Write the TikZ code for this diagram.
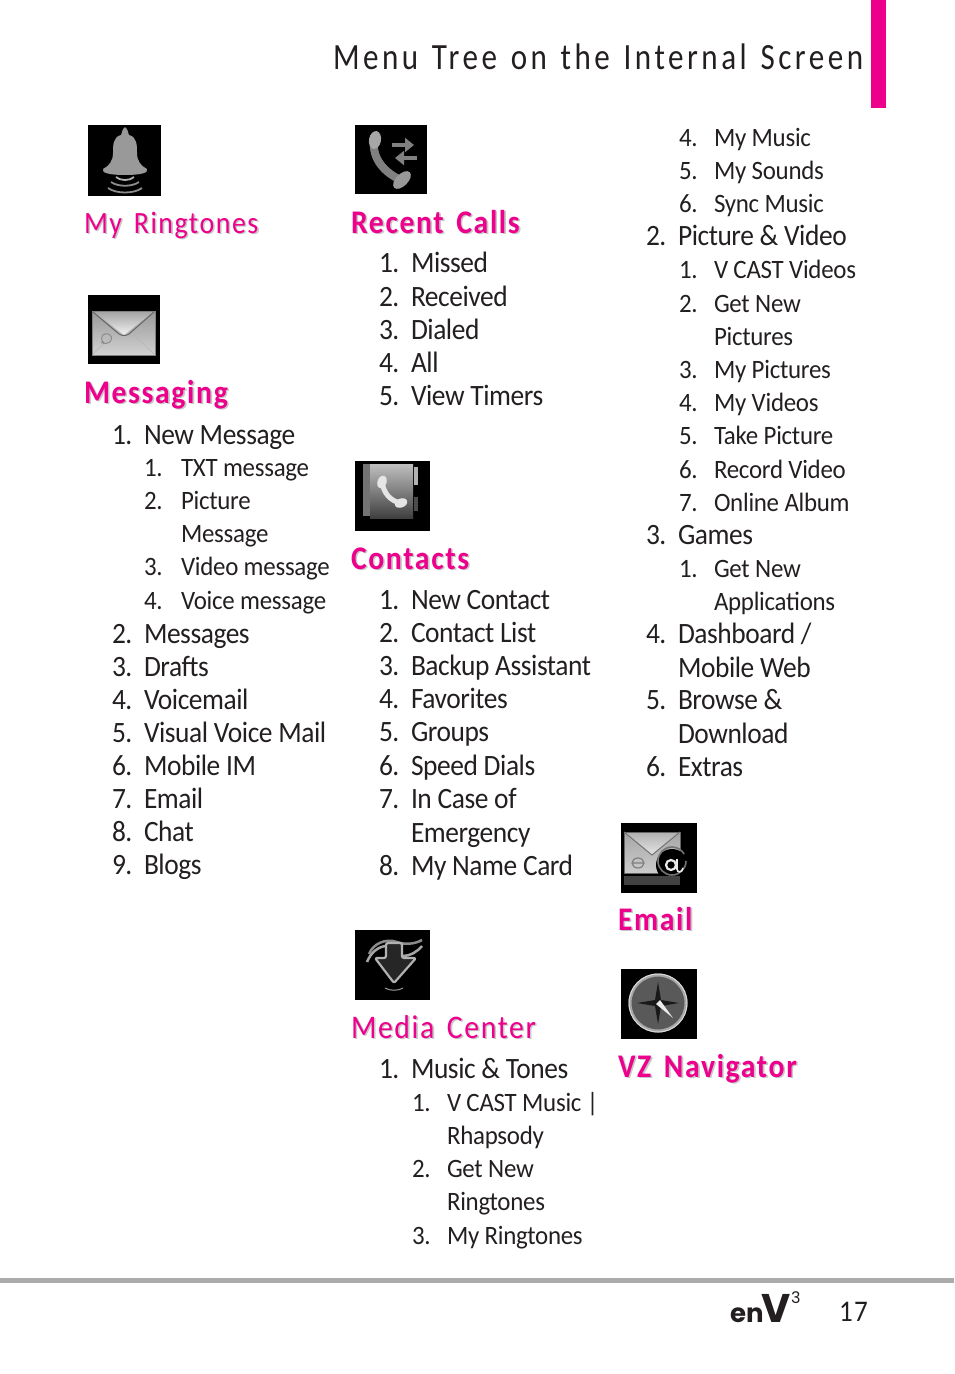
\documentclass[tikz,border=0pt]{standalone}
\usepackage{fontspec}
\setmainfont{Carlito}
\newfontfamily\topfont[FakeStretch=.93, LetterSpace=-1.5]{Carlito}
\newfontfamily\subfont[FakeStretch=.94, LetterSpace=-1]{Carlito}
\newfontfamily\headfont[FakeStretch=.9, LetterSpace=5, WordSpace=1.5]{Carlito}
\newfontfamily\titlefont[FakeStretch=.84, LetterSpace=9.5, WordSpace=1.3]{Carlito}
\newfontfamily\logofont{Poppins}
\usetikzlibrary{arrows.meta, positioning}
\definecolor{lgpink}{HTML}{EC008C}
\definecolor{lgtext}{HTML}{231F20}
\definecolor{lgrule}{HTML}{ABABAB}
\newcommand{\headtext}[1]{\rlap{\kern1.6pt\raisebox{-1.6pt}{\textcolor{black!22}{#1}}}#1}
\tikzset{
  every node/.style={inner sep=0pt, outer sep=0pt, anchor=base west, text=lgtext},
  toplabel/.style={font=\topfont\fontsize{29.5}{33}\selectfont},
  sublabel/.style={font=\subfont\fontsize{26.5}{33}\selectfont},
  headlabel/.style={font=\headfont\fontsize{33}{36}\selectfont, text=lgpink},
  headbold/.style={font=\headfont\fontsize{33}{36}\selectfont\bfseries, text=lgpink},
  icon/.style={fill=black},
}
\begin{document}
\begin{tikzpicture}[x=1pt, y=-1pt]
  \useasboundingbox (0,0) rectangle (954,1374);
  % page furniture
  \fill[lgpink] (871,0) rectangle (886,108);
  \fill[lgrule] (0,1278) rectangle (954,1283);
  \node[font=\titlefont\fontsize{37}{40}\selectfont] (title) at (333,69) {Menu Tree on the Internal Screen};
  \node[font=\logofont\fontsize{26}{30}\selectfont\bfseries] (logo) at (730,1322) {en{\fontsize{40}{44}\selectfont\kern-2pt V}};
  \node[font=\logofont\fontsize{16}{18}\selectfont] (logosup) at (791,1303) {3};
  \fill[lgtext] (787,1295) circle (1);
  \node[font=\headfont\fontsize{30}{33}\selectfont] (page) at (839,1321) {17};

  % first column
  \node[headlabel, font=\headfont\fontsize{31}{36}\selectfont] (ringtones) at (84,233) {\headtext{My Ringtones}};
  \node[headbold] (messaging) at (84,403) {\headtext{Messaging}};
  \foreach \y/\n/\t in {444/1./New Message, 643/2./Messages, 676/3./Drafts, 709/4./Voicemail,
      742/5./Visual Voice Mail, 775/6./Mobile IM, 808/7./Email, 841/8./Chat, 874/9./Blogs} {
    \node[toplabel] (mnum\y) at (112,\y) {\n};
    \node[toplabel] (mitem\y) at (144,\y) {\t};
  }
  \foreach \y/\n/\t in {476/1./TXT message, 509/2./Picture, 575/3./Video message, 609/4./Voice message} {
    \node[sublabel] (mnum\y) at (144,\y) {\n};
    \node[sublabel] (mitem\y) at (181,\y) {\t};
  }
  \node[sublabel] (mitem542) at (181,542) {Message};

  % second column
  \node[headbold] (calls) at (351,233) {\headtext{Recent Calls}};
  \foreach \y/\n/\t in {272/1./Missed, 306/2./Received, 339/3./Dialed, 372/4./All, 405/5./View Timers} {
    \node[toplabel] (rnum\y) at (379,\y) {\n};
    \node[toplabel] (ritem\y) at (411,\y) {\t};
  }
  \node[headbold] (contacts) at (351,569) {\headtext{Contacts}};
  \foreach \y/\n/\t in {609/1./New Contact, 642/2./Contact List, 675/3./Backup Assistant, 708/4./Favorites,
      741/5./Groups, 775/6./Speed Dials, 808/7./In Case of, 875/8./My Name Card} {
    \node[toplabel] (cnum\y) at (379,\y) {\n};
    \node[toplabel] (citem\y) at (411,\y) {\t};
  }
  \node[toplabel] (citem842) at (411,842) {Emergency};
  \node[headlabel] (media) at (351,1038) {\headtext{Media Center}};
  \node[toplabel] (mcnum1) at (379,1078) {1.};
  \node[toplabel] (mcitem1) at (411,1078) {Music \& Tones};
  \foreach \y/\n/\t in {1111/1./V CAST Music |, 1177/2./Get New, 1244/3./My Ringtones} {
    \node[sublabel] (snum\y) at (412,\y) {\n};
    \node[sublabel] (sitem\y) at (447,\y) {\t};
  }
  \node[sublabel] (sitem1144) at (447,1144) {Rhapsody};
  \node[sublabel] (sitem1210) at (447,1210) {Ringtones};

  % third column
  \foreach \y/\n/\t in {146/4./My Music, 179/5./My Sounds, 212/6./Sync Music, 278/1./V CAST Videos, 312/2./Get New,
      378/3./My Pictures, 411/4./My Videos, 444/5./Take Picture, 478/6./Record Video, 511/7./Online Album, 577/1./Get New} {
    \node[sublabel] (tnum\y) at (679,\y) {\n};
    \node[sublabel] (titem\y) at (714,\y) {\t};
  }
  \node[sublabel] (titem345) at (714,345) {Pictures};
  \node[sublabel] (titem610) at (714,610) {Applications};
  \foreach \y/\n/\t in {245/2./Picture \& Video, 544/3./Games, 643/4./{Dashboard /}, 709/5./Browse \&, 776/6./Extras} {
    \node[toplabel] (tnum\y) at (646,\y) {\n};
    \node[toplabel] (titem\y) at (678,\y) {\t};
  }
  \node[toplabel] (titem677) at (678,677) {Mobile Web};
  \node[toplabel] (titem743) at (678,743) {Download};
  \node[headbold] (email) at (618,930) {\headtext{Email}};
  \node[headbold] (navigator) at (618,1077) {\headtext{VZ Navigator}};

  % bell icon
  \begin{scope}[shift={(88,125)}]
    \fill[icon] (0,0) rectangle (73,71);
    \path[left color=black!40, middle color=white, right color=black!40]
      (37,2) .. controls (34,4) and (34,8) .. (33,10) .. controls (25,12) and (25,20) .. (25,28)
      .. controls (25,36) and (21,41) .. (15,44) .. controls (13,48) and (22,50) .. (37,50)
      .. controls (52,50) and (61,48) .. (59,44) .. controls (53,41) and (49,36) .. (49,28)
      .. controls (49,20) and (49,12) .. (41,10) .. controls (40,8) and (40,4) .. (37,2) -- cycle;
    \draw[black!30, line width=1.8pt] (28,52) .. controls (32,56) and (42,56) .. (46,52);
    \draw[black!45, line width=1.8pt] (23,57) .. controls (30,62) and (44,62) .. (51,57);
    \draw[black!45, line width=1.8pt] (20,63) .. controls (28,69) and (46,69) .. (54,63);
  \end{scope}

  % envelope icon
  \begin{scope}[shift={(88,295)}]
    \fill[icon] (0,0) rectangle (72,69);
    \path[top color=black!40, bottom color=black!18, draw=black!50, line width=1pt] (4,16) rectangle (67,60);
    \path[top color=black!35, bottom color=black!5] (6,17) -- (65,17) -- (36,40) -- cycle;
    \draw[black!60, line width=1pt] (5,17) -- (31,39) .. controls (34,41) and (38,41) .. (41,39) -- (66,17);
    \draw[black!30] (5,59) -- (27,38) (66,59) -- (44,38);
    \draw[black!45, line width=1pt] (16,48) .. controls (10,42) and (16,36) .. (22,40) .. controls (27,44) and (20,52) .. (13,47);
  \end{scope}

  % call icon
  \begin{scope}[shift={(355,125)}]
    \fill[icon] (0,0) rectangle (72,69);
    \draw[black!50, line width=8pt, line cap=round] (19,16) .. controls (17,34) and (30,48) .. (46,55);
    \fill[black!35, rotate around={-10:(20,15)}] (20,15) ellipse (6 and 9);
    \fill[black!40, rotate around={45:(47,55)}] (47,55) ellipse (11 and 6);
    \draw[-{Triangle[length=9pt, width=14pt]}, black!50, line width=4.5pt] (37,20) -- (59,20);
    \draw[-{Triangle[length=9pt, width=14pt]}, black!50, line width=4.5pt] (62,33) -- (40,33);
  \end{scope}

  % contacts icon
  \begin{scope}[shift={(355,461)}]
    \fill[icon] (0,0) rectangle (75,70);
    \fill[black!55] (8,3) rectangle (15,55);
    \path[top color=black!25, bottom color=black!75] (15,3) rectangle (58,57);
    \fill[black!30] (59,6) rectangle (63,24);
    \fill[black!70] (59,36) rectangle (63,50);
    \draw[black!10, line width=5pt, line cap=round] (27,20) .. controls (28,32) and (36,41) .. (47,42);
    \fill[black!10, rotate around={-20:(27,21)}] (27,21) ellipse (4.5 and 6.5);
    \fill[black!10, rotate around={20:(46,42)}] (46,42) ellipse (6.5 and 4.5);
  \end{scope}

  % media center icon
  \begin{scope}[shift={(355,930)}]
    \fill[icon] (0,0) rectangle (75,70);
    \draw[black!45, line width=2.5pt] (14,24) .. controls (18,14) and (30,8) .. (42,12) .. controls (50,15) and (60,14) .. (67,10);
    \draw[black!35, line width=2.5pt] (12,32) .. controls (16,22) and (24,16) .. (32,16);
    \draw[black!35, line width=2.5pt] (48,26) .. controls (55,26) and (62,22) .. (67,16);
    \draw[black!30, line width=2.2pt, fill=black!85, line join=round, rounded corners=2pt]
      (31,13) -- (47,13) -- (47,28) -- (61,28) -- (39,53) -- (20,28) -- (31,28) -- cycle;
    \draw[black!40, line width=1pt] (30,58) .. controls (35,61) and (43,61) .. (48,58);
  \end{scope}

  % email icon
  \begin{scope}[shift={(621,823)}]
    \fill[icon] (0,0) rectangle (76,70);
    \path[top color=black!35, bottom color=black!20, draw=black!60] (3,9) rectangle (59,50);
    \path[top color=black!30, bottom color=black!10] (4,10) -- (58,10) -- (31,32) -- cycle;
    \draw[black!55, line width=1pt] (3,9) -- (31,32) -- (59,9);
    \draw[black!50, line width=1.2pt] (17,40) ellipse (6 and 5) (11,40) -- (23,40);
    \fill[black] (51,42) circle (16);
    \draw[black!55, line width=1.6pt] (65,38) arc (0:330:14);
    \draw[black!8, line width=2.2pt] (50,42) circle (5);
    \draw[black!8, line width=1.6pt] (56,36) -- (56,46) .. controls (56,50) and (61,50) .. (62,45);
    \fill[black!35, opacity=.4] (3,53) rectangle (59,62);
  \end{scope}

  % navigator icon
  \begin{scope}[shift={(621,969)}]
    \fill[icon] (0,0) rectangle (76,70);
    \draw[black!35, fill=black!65, line width=3pt] (37,34) circle (28);
    \draw[black!15, line width=1pt] (37,34) circle (29);
    \fill[black!90] (37,13) -- (40,31) -- (58,34) -- (40,37) -- (37,55) -- (34,37) -- (16,34) -- (34,31) -- cycle;
    \fill[black!8] (35,35) -- (39,31) -- (52,49) -- cycle;
  \end{scope}
\end{tikzpicture}
\end{document}
